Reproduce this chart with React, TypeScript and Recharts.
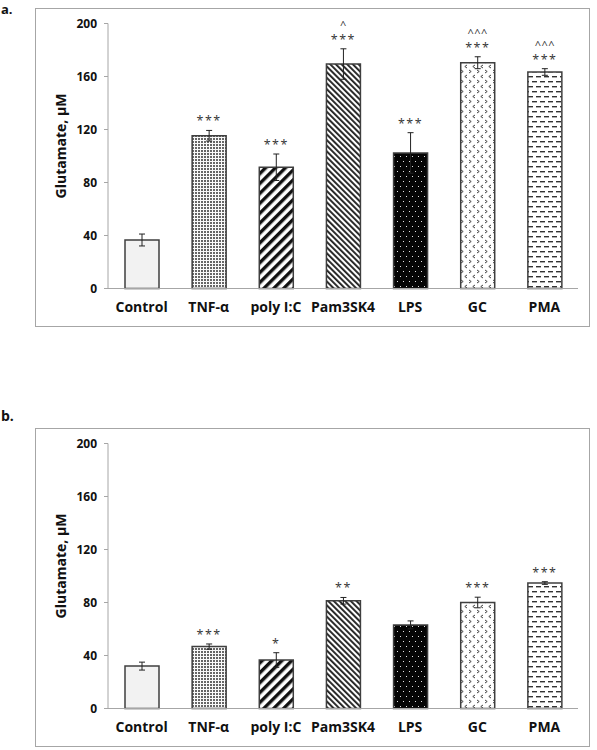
import React from "react";
import { BarChart, Bar, XAxis, YAxis, ErrorBar, Cell } from "recharts";

const categories = ["Control", "TNF-α", "poly I:C", "Pam3SK4", "LPS", "GC", "PMA"];
const yTicks = [0, 40, 80, 120, 160, 200];

// panel a
const meansA = [36.6, 115.3, 91.5, 169.4, 102.3, 170.4, 163.4];
const errsA = [4.5, 4, 10, 11.5, 15.3, 4.5, 2.5];
const starsA = ["", "***", "***", "***", "***", "***", "***"];
const caretsA = ["", "", "", "^", "", "^^^", "^^^"];

// panel b
const meansB = [32, 46.7, 36.6, 81.3, 63.1, 80, 94.7];
const errsB = [3, 2, 5.5, 2.5, 3, 4, 1];
const starsB = ["", "***", "*", "**", "", "***", "***"];
const caretsB = ["", "", "", "", "", "", ""];

const FONT = "'Open Sans', 'DejaVu Sans', sans-serif";
const AXIS_GRAY = "#a6a6a6";
const BAR_EDGE = "#3f3f3f";

function Patterns({ id }: { id: string }) {
  return (
    <defs>
      <pattern id={`${id}-dots`} width={3} height={3} patternUnits="userSpaceOnUse">
        <rect width={3} height={3} fill="#fafafa" />
        <rect width={2} height={2} fill="#666" />
      </pattern>
      <pattern id={`${id}-wide`} width={7} height={7} patternUnits="userSpaceOnUse" patternTransform="rotate(45)">
        <rect width={7} height={7} fill="#fff" />
        <rect width={3.4} height={7} fill="#111" />
      </pattern>
      <pattern id={`${id}-narrow`} width={4} height={4} patternUnits="userSpaceOnUse" patternTransform="rotate(-45)">
        <rect width={4} height={4} fill="#fff" />
        <rect width={1.9} height={4} fill="#222" />
      </pattern>
      <pattern id={`${id}-black`} width={6} height={10} patternUnits="userSpaceOnUse">
        <rect width={6} height={10} fill="#050505" />
        <rect x={1} y={2} width={1} height={1} fill="#e6e6e6" />
        <rect x={4} y={7} width={1} height={1} fill="#e6e6e6" />
      </pattern>
      <pattern id={`${id}-chev`} width={8} height={10} patternUnits="userSpaceOnUse">
        <rect width={8} height={10} fill="#fff" />
        <path d="M1 1 L3.2 2.5 L1 4 M7 6 L4.8 7.5 L7 9" stroke="#444" strokeWidth={1} fill="none" />
      </pattern>
      <pattern id={`${id}-dash`} width={8} height={10} patternUnits="userSpaceOnUse">
        <rect width={8} height={10} fill="#fff" />
        <rect x={0} y={2} width={5} height={1.4} fill="#333" />
        <rect x={4} y={7} width={4} height={1.4} fill="#333" />
        <rect x={0} y={7} width={1} height={1.4} fill="#333" />
      </pattern>
    </defs>
  );
}

type PanelProps = {
  id: string;
  top: number;
  means: number[];
  errs: number[];
  stars: string[];
  carets: string[];
};

function Panel({ id, top, means, errs, stars, carets }: PanelProps) {
  const rows = categories.map((name, i) => ({ name, mean: means[i], err: errs[i] }));
  const fills = [
    "#f2f2f2",
    `url(#${id}-dots)`,
    `url(#${id}-wide)`,
    `url(#${id}-narrow)`,
    `url(#${id}-black)`,
    `url(#${id}-chev)`,
    `url(#${id}-dash)`,
  ];

  // significance marks sit just above the top of each error bar
  const renderAnnot = (props: any) => {
    const { x, y, width, height, value, index } = props;
    if (!value || !stars[index]) return null;
    const pxPerUnit = Number(height) / Number(value);
    const errTop = Number(y) - errs[index] * pxPerUnit;
    const cx = Number(x) + Number(width) / 2;
    return (
      <g key={`annot-${index}`}>
        {carets[index] && (
          <text x={cx} y={errTop - 20} textAnchor="middle" fontFamily={FONT} fontSize={11} letterSpacing={0.5} fill="#333">
            {carets[index]}
          </text>
        )}
        <text x={cx} y={errTop - 5} textAnchor="middle" fontFamily={FONT} fontSize={12.5} letterSpacing={1.5} fill="#333">
          {stars[index]}
        </text>
      </g>
    );
  };

  return (
    <div
      style={{
        position: "absolute",
        left: 35,
        top,
        width: 553,
        height: 317,
        border: `1px solid ${AXIS_GRAY}`,
        background: "#fff",
      }}
    >
      <BarChart
        width={553}
        height={317}
        data={rows}
        margin={{ top: 14.5, right: 11, left: 0, bottom: 7.5 }}
        barSize={34}
      >
        <Patterns id={id} />
        <XAxis
          dataKey="name"
          interval={0}
          tickLine={false}
          tickSize={0}
          tickMargin={14}
          axisLine={{ stroke: AXIS_GRAY }}
          tick={{ fontSize: 14, fontWeight: 700, fill: "#111", fontFamily: FONT }}
          height={30}
        />
        <YAxis
          domain={[0, 200]}
          ticks={yTicks}
          width={72}
          tickSize={4}
          tickMargin={7}
          axisLine={{ stroke: AXIS_GRAY }}
          tickLine={{ stroke: AXIS_GRAY }}
          tick={{ fontSize: 12, fontWeight: 700, fill: "#111", fontFamily: FONT }}
          label={(lp: any) => {
            const vb = lp.viewBox || {};
            const cx = 24;
            const cy = (vb.y ?? 14.5) + (vb.height ?? 265) / 2 - 10;
            return (
              <text
                x={cx}
                y={cy}
                transform={`rotate(-90 ${cx} ${cy})`}
                textAnchor="middle"
                dominantBaseline="central"
                fontFamily={FONT}
                fontSize={14}
                fontWeight={700}
                fill="#111"
              >
                Glutamate, μM
              </text>
            );
          }}
        />
        <Bar
          dataKey="mean"
          stroke={BAR_EDGE}
          strokeWidth={1.5}
          isAnimationActive={false}
          label={renderAnnot}
        >
          {rows.map((r, i) => (
            <Cell key={r.name} fill={fills[i]} />
          ))}
          <ErrorBar dataKey="err" width={3} stroke="#222" strokeWidth={1} />
        </Bar>
      </BarChart>
    </div>
  );
}

export default function App() {
  return (
    <div style={{ position: "absolute", left: 0, top: 0, width: 597, height: 750, background: "#fff" }}>
      <svg width={40} height={430} style={{ position: "absolute", left: 0, top: 0 }}>
        <text x={1} y={14} fontFamily={FONT} fontSize={13} fontWeight={700} fill="#111">
          a.
        </text>
        <text x={1} y={421} fontFamily={FONT} fontSize={14} fontWeight={700} fill="#111">
          b.
        </text>
      </svg>
      <Panel id="pa" top={8} means={meansA} errs={errsA} stars={starsA} carets={caretsA} />
      <Panel id="pb" top={428} means={meansB} errs={errsB} stars={starsB} carets={caretsB} />
    </div>
  );
}
